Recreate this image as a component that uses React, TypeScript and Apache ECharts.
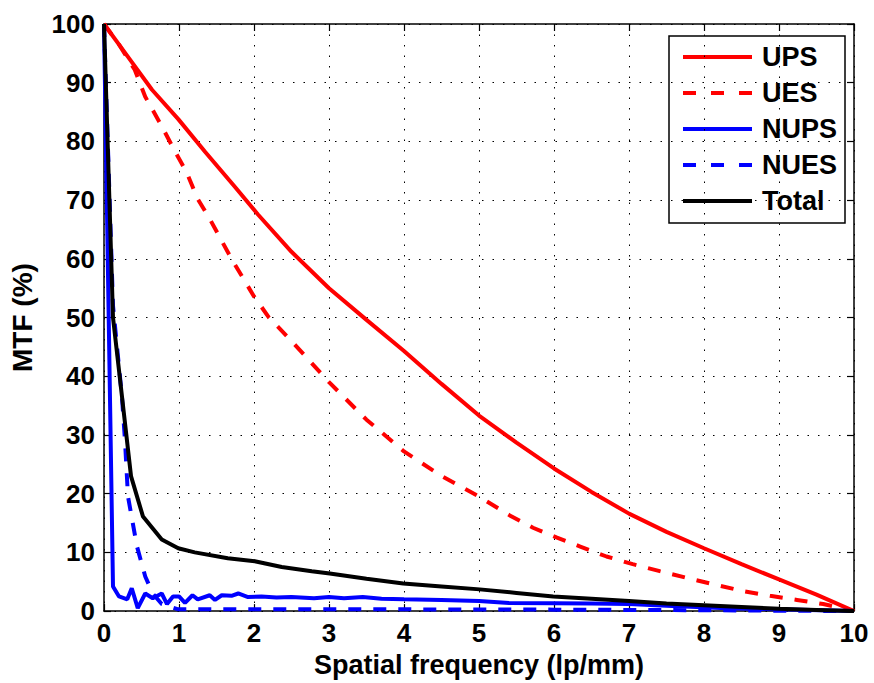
import React, { useEffect, useRef } from "react";
import * as echarts from "echarts";

const xTicks = [0, 1, 2, 3, 4, 5, 6, 7, 8, 9, 10];
const yTicks = [0, 10, 20, 30, 40, 50, 60, 70, 80, 90, 100];

const upsX = [0, 0.32, 0.64, 0.99, 1.35, 1.75, 2.05, 2.5, 3, 3.5, 4, 4.5, 5, 5.5, 6, 6.5, 7, 7.5, 8, 8.5, 9, 9.5, 10];
const upsY = [100, 94.4, 88.8, 83.8, 78.2, 72.2, 67.6, 61.2, 55, 49.6, 44.3, 38.7, 33.3, 28.7, 24.3, 20.3, 16.6, 13.5, 10.7, 8.0, 5.4, 2.8, 0];

const uesX = [0, 0.2, 0.41, 0.55, 0.77, 0.95, 1.1, 1.25, 1.41, 1.7, 2, 2.2, 2.5, 3, 3.5, 4, 4.5, 5, 5.41, 5.72, 6.04, 6.35, 6.7, 7.05, 7.41, 7.79, 8.15, 8.52, 8.88, 9.24, 9.59, 10];
const uesY = [100, 96.5, 92.2, 87.6, 82.6, 78.2, 74.8, 70.2, 66.8, 60, 53.6, 50, 46, 39, 32.6, 27.2, 23, 19.5, 16.3, 14.2, 12.5, 11, 9.3, 8.0, 6.8, 5.6, 4.5, 3.4, 2.6, 1.9, 1.2, 0];

const nupsX = [0, 0.12, 0.2, 0.31, 0.37, 0.45, 0.55, 0.65, 0.77, 0.84, 0.92, 1.0, 1.08, 1.18, 1.25, 1.41, 1.48, 1.57, 1.7, 1.79, 1.92, 2.1, 2.3, 2.5, 2.8, 3.0, 3.2, 3.45, 3.7, 4.0, 4.5, 5.0, 5.4, 6.0, 6.5, 7.0, 7.5, 8.3, 9.0, 10];
const nupsY = [100, 4.2, 2.5, 2.0, 3.9, 0.5, 3.0, 2.2, 3.0, 1.2, 2.5, 2.5, 1.4, 2.7, 2.0, 2.7, 1.9, 2.7, 2.6, 3.0, 2.4, 2.5, 2.3, 2.4, 2.2, 2.4, 2.2, 2.4, 2.1, 2.0, 1.9, 1.7, 1.4, 1.35, 1.3, 1.2, 0.9, 0.5, 0.3, 0];

const nuesX = [0, 0.12, 0.24, 0.28, 0.32, 0.44, 0.55, 0.65, 0.77, 0.99, 2, 4, 6, 8, 10];
const nuesY = [100, 52, 36.4, 29, 19.5, 11, 5.9, 3.0, 1.2, 0.3, 0.3, 0.3, 0.25, 0.15, 0];

const totalX = [0, 0.12, 0.36, 0.52, 0.77, 0.99, 1.21, 1.65, 2.01, 2.37, 2.77, 3.01, 3.5, 3.99, 4.5, 5.01, 5.5, 5.99, 6.5, 7.0, 7.5, 8.0, 8.5, 9.0, 9.5, 10];
const totalY = [100, 50, 23, 16.1, 12.2, 10.7, 10.0, 9.0, 8.5, 7.5, 6.8, 6.4, 5.5, 4.7, 4.2, 3.7, 3.1, 2.5, 2.1, 1.7, 1.3, 1.0, 0.7, 0.4, 0.2, 0];

const seriesNames = ["UPS", "UES", "NUPS", "NUES", "Total"];
const seriesColors = ["#ff0000", "#ff0000", "#0000ff", "#0000ff", "#000000"];
const seriesDashed = [false, true, false, true, false];

const FONT = "'Liberation Sans', Arial, Helvetica, sans-serif";
const LW = 4;
const DASH = [13, 12];

function pairs(xs: number[], ys: number[]) {
  return xs.map((x, i) => [x, ys[i]]);
}

export default function App() {
  const ref = useRef<HTMLDivElement>(null);
  useEffect(() => {
    if (!ref.current) return;
    const chart = echarts.init(ref.current, null, { renderer: "svg" });
    const datasets = [
      pairs(upsX, upsY),
      pairs(uesX, uesY),
      pairs(nupsX, nupsY),
      pairs(nuesX, nuesY),
      pairs(totalX, totalY),
    ];
    const series = seriesNames.map((name, i) => ({
      name,
      type: "line",
      data: datasets[i],
      showSymbol: false,
      symbol: "none",
      lineStyle: { color: seriesColors[i], width: LW, type: seriesDashed[i] ? DASH : "solid" },
      itemStyle: { color: seriesColors[i] },
      z: 3,
    }));
    const axisCommon = {
      type: "value",
      axisLine: { show: true, onZero: false, lineStyle: { color: "#000", width: 1.5 } },
      axisTick: { show: true, inside: true, length: 7, lineStyle: { color: "#000", width: 1.2 } },
    };
    const lgLeft = 669, lgTop = 36, lgW = 176, lgH = 187;
    const legendChildren: any[] = [
      {
        type: "rect",
        shape: { x: lgLeft, y: lgTop, width: lgW, height: lgH },
        style: { fill: "#fff", stroke: "#000", lineWidth: 1.5 },
      },
    ];
    seriesNames.forEach((name, i) => {
      const cy = 57 + 36 * i;
      legendChildren.push({
        type: "line",
        shape: { x1: 683, y1: cy, x2: 752, y2: cy },
        style: {
          stroke: seriesColors[i],
          lineWidth: LW,
          lineDash: seriesDashed[i] ? [13, 15] : null,
        },
      });
      legendChildren.push({
        type: "text",
        x: 762,
        y: cy,
        style: {
          text: name,
          fill: "#000",
          font: `bold 27px ${FONT}`,
          verticalAlign: "middle",
          align: "left",
        },
      });
    });
    chart.setOption({
      animation: false,
      backgroundColor: "#fff",
      grid: { left: 104, top: 24, right: 20, bottom: 68, containLabel: false },
      xAxis: [
        {
          ...axisCommon,
          min: xTicks[0],
          max: xTicks[xTicks.length - 1],
          interval: 1,
          position: "bottom",
          name: "Spatial frequency (lp/mm)",
          nameLocation: "middle",
          nameGap: 34,
          nameTextStyle: { fontFamily: FONT, fontWeight: "bold", fontSize: 27, color: "#000" },
          axisLabel: { fontFamily: FONT, fontWeight: "bold", fontSize: 26, color: "#000", margin: 9 },
          splitLine: { show: true, lineStyle: { color: "#000", width: 1, type: [1.5, 9] } },
        },
        {
          ...axisCommon,
          min: xTicks[0],
          max: xTicks[xTicks.length - 1],
          interval: 1,
          position: "top",
          axisLabel: { show: false },
          splitLine: { show: false },
        },
      ],
      yAxis: [
        {
          ...axisCommon,
          min: yTicks[0],
          max: yTicks[yTicks.length - 1],
          interval: 10,
          position: "left",
          name: "MTF (%)",
          nameLocation: "middle",
          nameGap: 68,
          nameTextStyle: { fontFamily: FONT, fontWeight: "bold", fontSize: 28, color: "#000" },
          axisLabel: { fontFamily: FONT, fontWeight: "bold", fontSize: 26, color: "#000", margin: 9 },
          splitLine: { show: true, lineStyle: { color: "#000", width: 1, type: [1.5, 9] } },
        },
        {
          ...axisCommon,
          min: yTicks[0],
          max: yTicks[yTicks.length - 1],
          interval: 10,
          position: "right",
          axisLabel: { show: false },
          splitLine: { show: false },
        },
      ],
      graphic: [{ type: "group", z: 100, children: legendChildren }],
      series,
    });
    return () => chart.dispose();
  }, []);
  return (
    <div
      ref={ref}
      style={{ position: "fixed", left: 0, top: 0, width: 874, height: 683, background: "#fff" }}
    />
  );
}
